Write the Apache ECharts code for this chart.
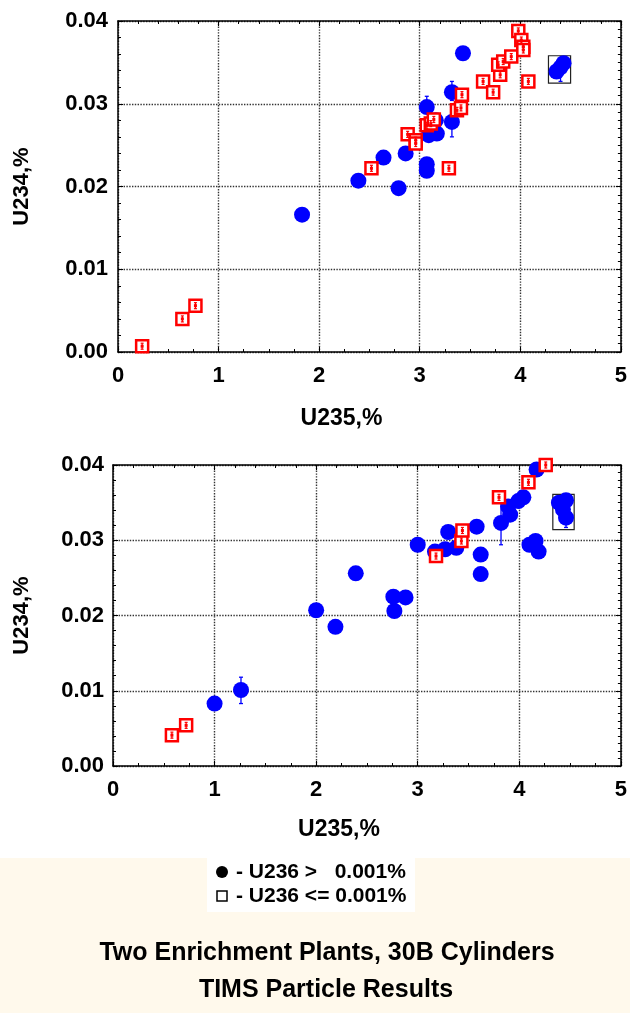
<!DOCTYPE html>
<html><head><meta charset="utf-8">
<script src="https://cdn.jsdelivr.net/npm/echarts@6/dist/echarts.min.js"></script>
<style>html,body{margin:0;padding:0;background:#fff}#c{width:630px;height:1013px}</style>
</head><body><div id="c"></div>
<script>
// ---- data ----
const xAxisTitle = 'U235,%';
const yAxisTitle = 'U234,%';
const legendTexts = ['- U236 >   0.001%', '- U236 <= 0.001%'];
const titleLines = ['Two Enrichment Plants, 30B Cylinders', 'TIMS Particle Results'];

// top panel: U236 > 0.001% (filled circles)
const topBlue = [
  [1.83,0.0166],[2.39,0.0207],[2.64,0.0235],[2.79,0.0198],[2.86,0.0240],
  [3.07,0.0227],[3.07,0.0219],[3.07,0.0296],[3.16,0.0280],[3.12,0.0268],
  [3.17,0.0264],[3.09,0.0262],[3.32,0.0314],[3.32,0.0278],[3.43,0.0361],
  [4.43,0.0349],[4.36,0.0339],[4.40,0.0344]
];
// top panel: U236 <= 0.001% (open squares)
const topRed = [
  [0.24,0.0007],[0.64,0.0040],[0.77,0.0056],[2.52,0.0222],[3.29,0.0222],
  [2.88,0.0263],[2.96,0.0256],[2.96,0.0252],[3.07,0.0274],[3.11,0.0276],
  [3.14,0.0281],[3.37,0.0292],[3.41,0.0295],[3.42,0.0311],[3.63,0.0327],
  [3.73,0.0314],[3.80,0.0335],[3.78,0.0347],[3.83,0.0351],[3.91,0.0357],
  [3.98,0.0388],[4.01,0.0377],[4.03,0.0369],[4.03,0.0365],[4.08,0.0327]
];
// error bars [x, low, high]
const topBlueErr = [[3.32,0.0304,0.0327],[3.32,0.0260,0.0296],[3.07,0.0290,0.0309],[4.40,0.0327,0.0344]];
const topBox = [[4.28,0.0325,4.50,0.0358]];

// bottom panel
const botBlue = [
  [1.00,0.0083],[1.26,0.0101],[2.00,0.0207],[2.19,0.0185],[2.39,0.0256],
  [2.76,0.0225],[2.77,0.0206],[2.88,0.0224],[3.00,0.0294],[3.17,0.0285],
  [3.27,0.0288],[3.30,0.0311],[3.38,0.0290],[3.58,0.0318],[3.62,0.0281],
  [3.62,0.0255],[3.82,0.0323],[3.91,0.0334],[3.89,0.0345],[3.99,0.0352],
  [4.04,0.0357],[4.10,0.0294],[4.16,0.0299],[4.19,0.0285],[4.17,0.0394],
  [4.39,0.0350],[4.46,0.0353],[4.43,0.0341],[4.46,0.0330]
];
const botRed = [
  [0.58,0.0041],[0.72,0.0054],[3.18,0.0279],[3.43,0.0299],[3.44,0.0313],
  [3.80,0.0357],[4.09,0.0377],[4.26,0.0400]
];
const botBlueErr = [[1.26,0.0083,0.0118],[3.82,0.0294,0.0350],[4.46,0.0317,0.0330],[3.17,0.0275,0.0290]];
const botBox = [[4.33,0.0314,4.54,0.0361]];

const xMin = 0, xMax = 5, xStep = 1;
const yMin = 0, yMax = 0.04, yStep = 0.01;

// ---- chart ----
const FONT = 'Liberation Sans, Arial, sans-serif';
const BLUE = '#0000ff', RED = '#ff0000';

function axes(g, gap) {
  const xs = [{
    type:'value', gridIndex:g, min:xMin, max:xMax, interval:xStep, position:'bottom',
    name:xAxisTitle, nameLocation:'middle', nameGap:gap.xName,
    nameTextStyle:{fontFamily:FONT, fontWeight:'bold', fontSize:23, color:'#000', padding:[0,56,0,0]},
    axisLine:{show:true, onZero:false, lineStyle:{color:'#000', width:1.5}},
    axisTick:{show:true, inside:true, length:5, lineStyle:{color:'#000'}},
    minorTick:{show:true, splitNumber:4, length:3, lineStyle:{color:'#000'}},
    splitLine:{show:true, lineStyle:{type:'dotted', color:'#333', width:1.4}},
    axisLabel:{fontFamily:FONT, fontWeight:'bold', fontSize:22, color:'#000', margin:gap.xLab}
  },{
    type:'value', gridIndex:g, min:xMin, max:xMax, interval:xStep, position:'top',
    axisLine:{show:true, onZero:false, lineStyle:{color:'#000', width:1.5}},
    axisTick:{show:true, inside:true, length:5, lineStyle:{color:'#000'}},
    minorTick:{show:true, splitNumber:5, length:3, lineStyle:{color:'#000'}},
    splitLine:{show:false}, axisLabel:{show:false}
  }];
  const ys = [{
    type:'value', gridIndex:g, min:yMin, max:yMax, interval:yStep, position:'left',
    name:yAxisTitle, nameLocation:'middle', nameGap:gap.yName, nameRotate:90,
    nameTextStyle:{fontFamily:FONT, fontWeight:'bold', fontSize:22, color:'#000'},
    axisLine:{show:true, onZero:false, lineStyle:{color:'#000', width:1.5}},
    axisTick:{show:true, inside:true, length:5, lineStyle:{color:'#000'}},
    minorTick:{show:true, splitNumber:5, length:3, lineStyle:{color:'#000'}},
    splitLine:{show:true, lineStyle:{type:'dotted', color:'#333', width:1.4}},
    axisLabel:{fontFamily:FONT, fontWeight:'bold', fontSize:22, color:'#000', margin:gap.yLab,
      formatter:v=>v.toFixed(2)}
  },{
    type:'value', gridIndex:g, min:yMin, max:yMax, interval:yStep, position:'right',
    axisLine:{show:true, onZero:false, lineStyle:{color:'#000', width:1.5}},
    axisTick:{show:true, inside:true, length:5, lineStyle:{color:'#000'}},
    minorTick:{show:true, splitNumber:10, length:3, lineStyle:{color:'#000'}},
    splitLine:{show:false}, axisLabel:{show:false}
  }];
  return {xs, ys};
}

function errSeries(data, xi, yi, color) {
  return {
    type:'custom', xAxisIndex:xi, yAxisIndex:yi, data:data, z:3, silent:true,
    renderItem:(p, api)=>{
      const a = api.coord([api.value(0), api.value(1)]);
      const b = api.coord([api.value(0), api.value(2)]);
      const st = {stroke:color, lineWidth:1.3};
      return {type:'group', children:[
        {type:'line', shape:{x1:a[0],y1:a[1],x2:b[0],y2:b[1]}, style:st},
        {type:'line', shape:{x1:a[0]-2,y1:a[1],x2:a[0]+2,y2:a[1]}, style:st},
        {type:'line', shape:{x1:b[0]-2,y1:b[1],x2:b[0]+2,y2:b[1]}, style:st}
      ]};
    }
  };
}
function innerMarks(data, xi, yi) {
  return {
    type:'custom', xAxisIndex:xi, yAxisIndex:yi, data:data, z:6, silent:true,
    renderItem:(p, api)=>{
      const c = api.coord([api.value(0), api.value(1)]);
      const st = {stroke:RED, lineWidth:1.2};
      return {type:'group', children:[
        {type:'line', shape:{x1:c[0],y1:c[1]-3,x2:c[0],y2:c[1]+3}, style:st},
        {type:'line', shape:{x1:c[0]-1.5,y1:c[1]-3,x2:c[0]+1.5,y2:c[1]-3}, style:st},
        {type:'line', shape:{x1:c[0]-1.5,y1:c[1]+3,x2:c[0]+1.5,y2:c[1]+3}, style:st},
        {type:'rect', shape:{x:c[0]-1.5,y:c[1]-1.5,width:3,height:3}, style:{fill:RED}}
      ]};
    }
  };
}
function boxSeries(data, xi, yi) {
  return {
    type:'custom', xAxisIndex:xi, yAxisIndex:yi, data:data, z:2, silent:true,
    renderItem:(p, api)=>{
      const a = api.coord([api.value(0), api.value(1)]);
      const b = api.coord([api.value(2), api.value(3)]);
      return {type:'rect', shape:{x:a[0], y:b[1], width:b[0]-a[0], height:a[1]-b[1]},
        style:{fill:'none', stroke:'#222', lineWidth:1.2}};
    }
  };
}
function panel(blue, red, err, box, xi, yi) {
  return [
    boxSeries(box, xi, yi),
    errSeries(err, xi, yi, BLUE),
    {type:'scatter', xAxisIndex:xi, yAxisIndex:yi, data:blue, symbol:'circle', symbolSize:16,
      itemStyle:{color:BLUE, opacity:1}, z:4},
    {type:'scatter', xAxisIndex:xi, yAxisIndex:yi, data:red, symbol:'rect', symbolSize:12,
      itemStyle:{color:'#fff', borderColor:RED, borderWidth:2.5, opacity:1}, z:5},
    innerMarks(red, xi, yi)
  ];
}

const A = axes(0, {xName:55, xLab:13, yName:85, yLab:10});
const B = axes(1, {xName:52, xLab:13, yName:80, yLab:9});

const chart = echarts.init(document.getElementById('c'), null, {renderer:'canvas'});
chart.setOption({
  backgroundColor:'#fff',
  animation:false,
  grid:[
    {left:118, top:21, width:504, height:331},
    {left:113, top:465, width:508, height:301}
  ],
  xAxis:[...A.xs, ...B.xs],
  yAxis:[...A.ys, ...B.ys],
  graphic:[
    {type:'rect', left:0, top:858, shape:{width:630, height:155}, style:{fill:'#fff9ec'}, z:-10},
    {type:'rect', left:207, top:858, shape:{width:208, height:54}, style:{fill:'#fff'}, z:-9},
    {type:'circle', shape:{cx:222, cy:872, r:6}, style:{fill:'#000'}},
    {type:'rect', shape:{x:217, y:891, width:10, height:10}, style:{fill:'#fff', stroke:'#000', lineWidth:1.5}},
    {type:'text', x:236, y:872, style:{text:legendTexts[0], fontFamily:FONT, fontWeight:'bold', fontSize:21, fill:'#000', verticalAlign:'middle'}},
    {type:'text', x:236, y:896, style:{text:legendTexts[1], fontFamily:FONT, fontWeight:'bold', fontSize:21, fill:'#000', verticalAlign:'middle'}},
    {type:'text', x:327, y:953, style:{text:titleLines[0], fontFamily:FONT, fontWeight:'bold', fontSize:25, fill:'#000', align:'center', verticalAlign:'middle'}},
    {type:'text', x:326, y:990, style:{text:titleLines[1], fontFamily:FONT, fontWeight:'bold', fontSize:25, fill:'#000', align:'center', verticalAlign:'middle'}}
  ],
  series:[
    ...panel(topBlue, topRed, topBlueErr, topBox, 0, 0),
    ...panel(botBlue, botRed, botBlueErr, botBox, 2, 2)
  ]
});
</script></body></html>
